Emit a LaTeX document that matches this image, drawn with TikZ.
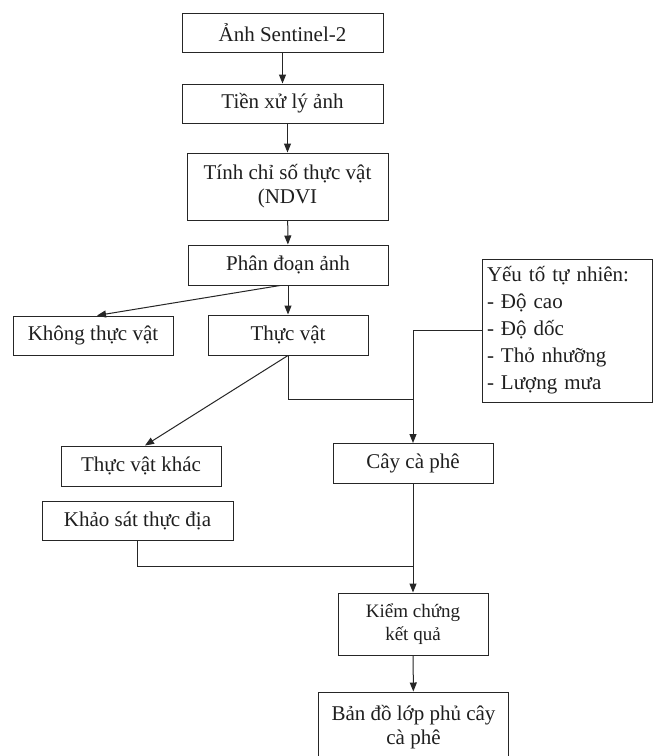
\documentclass[tikz,border=0pt]{standalone}
\usepackage{fontspec}
\setmainfont{Liberation Serif}
\usetikzlibrary{arrows.meta,calc}
\begin{document}
\begin{tikzpicture}[x=1pt,y=-1pt,
  line width=1pt,
  box/.style={draw=black!85, text=black!88, inner sep=0pt, align=center,
    font=\fontsize{21}{24}\selectfont},
  arr/.style={draw=black!85, -{Triangle[length=9pt,width=7pt]}},
  ln/.style={draw=black!85}]
\useasboundingbox (0,0) rectangle (659,756);
\clip (0,0) rectangle (659,756);
\fill[white] (0,0) rectangle (659,756);
\node[box, minimum width=201, minimum height=39] (a) at (282.5,32.5) {Ảnh Sentinel-2};
\node[box, minimum width=201, minimum height=39] (b) at (282.5,103.5) {Tiền xử lý ảnh};
\node[box, minimum width=201, minimum height=67] (c) at (287.5,186.5) {Tính chỉ số thực vật\\(NDVI};
\node[box, minimum width=200, minimum height=40] (d) at (288,265) {Phân đoạn ảnh};
\node[box, minimum width=160, minimum height=39] (e) at (93,335.5) {Không thực vật};
\node[box, minimum width=160, minimum height=40] (f) at (288,335) {Thực vật};
\node[box, minimum width=170, minimum height=143, text width=160, align=left,
  inner xsep=5pt, font=\fontsize{21}{27}\selectfont] (g) at (567,330.5)
  {Yếu tố tự nhiên:\\- Độ cao\\- Độ dốc\\- Thỏ nhưỡng\\- Lượng mưa};
\node[box, minimum width=160, minimum height=40] (h) at (141,466) {Thực vật khác};
\node[box, minimum width=160, minimum height=40] (i) at (413,463.5) {Cây cà phê};
\node[box, minimum width=191, minimum height=39] (j) at (137.5,520.5) {Khảo sát thực địa};
\node[box, minimum width=150, minimum height=62, font=\fontsize{19}{23}\selectfont] (k) at (413,624) {Kiểm chứng\\kết quả};
\node[box, minimum width=190, minimum height=70] (l) at (413.5,727) {Bản đồ lớp phủ cây\\cà phê};
\coordinate (j1) at ($(i.north |- 0,399)$);
\coordinate (j2) at ($(i.north |- 0,566)$);
\draw[arr] (a) -- (b);
\draw[arr] (c.north |- b.south) -- (c.north);
\draw[arr] (c) -- (d);
\draw[arr] (d) -- (f);
\draw[arr] ($(d.south)+(-8,0)$) -- ($(e.north)+(4,0)$);
\draw[arr] (f.south) -- ($(h.north)+(4,0)$);
\draw[ln] (f.south) |- (j1);
\draw[arr] (g.west) -| (i.north);
\draw[arr] (i) -- (k);
\draw[ln] (j.south) |- (j2);
\draw[arr] (k) -- (l);
\end{tikzpicture}
\end{document}
